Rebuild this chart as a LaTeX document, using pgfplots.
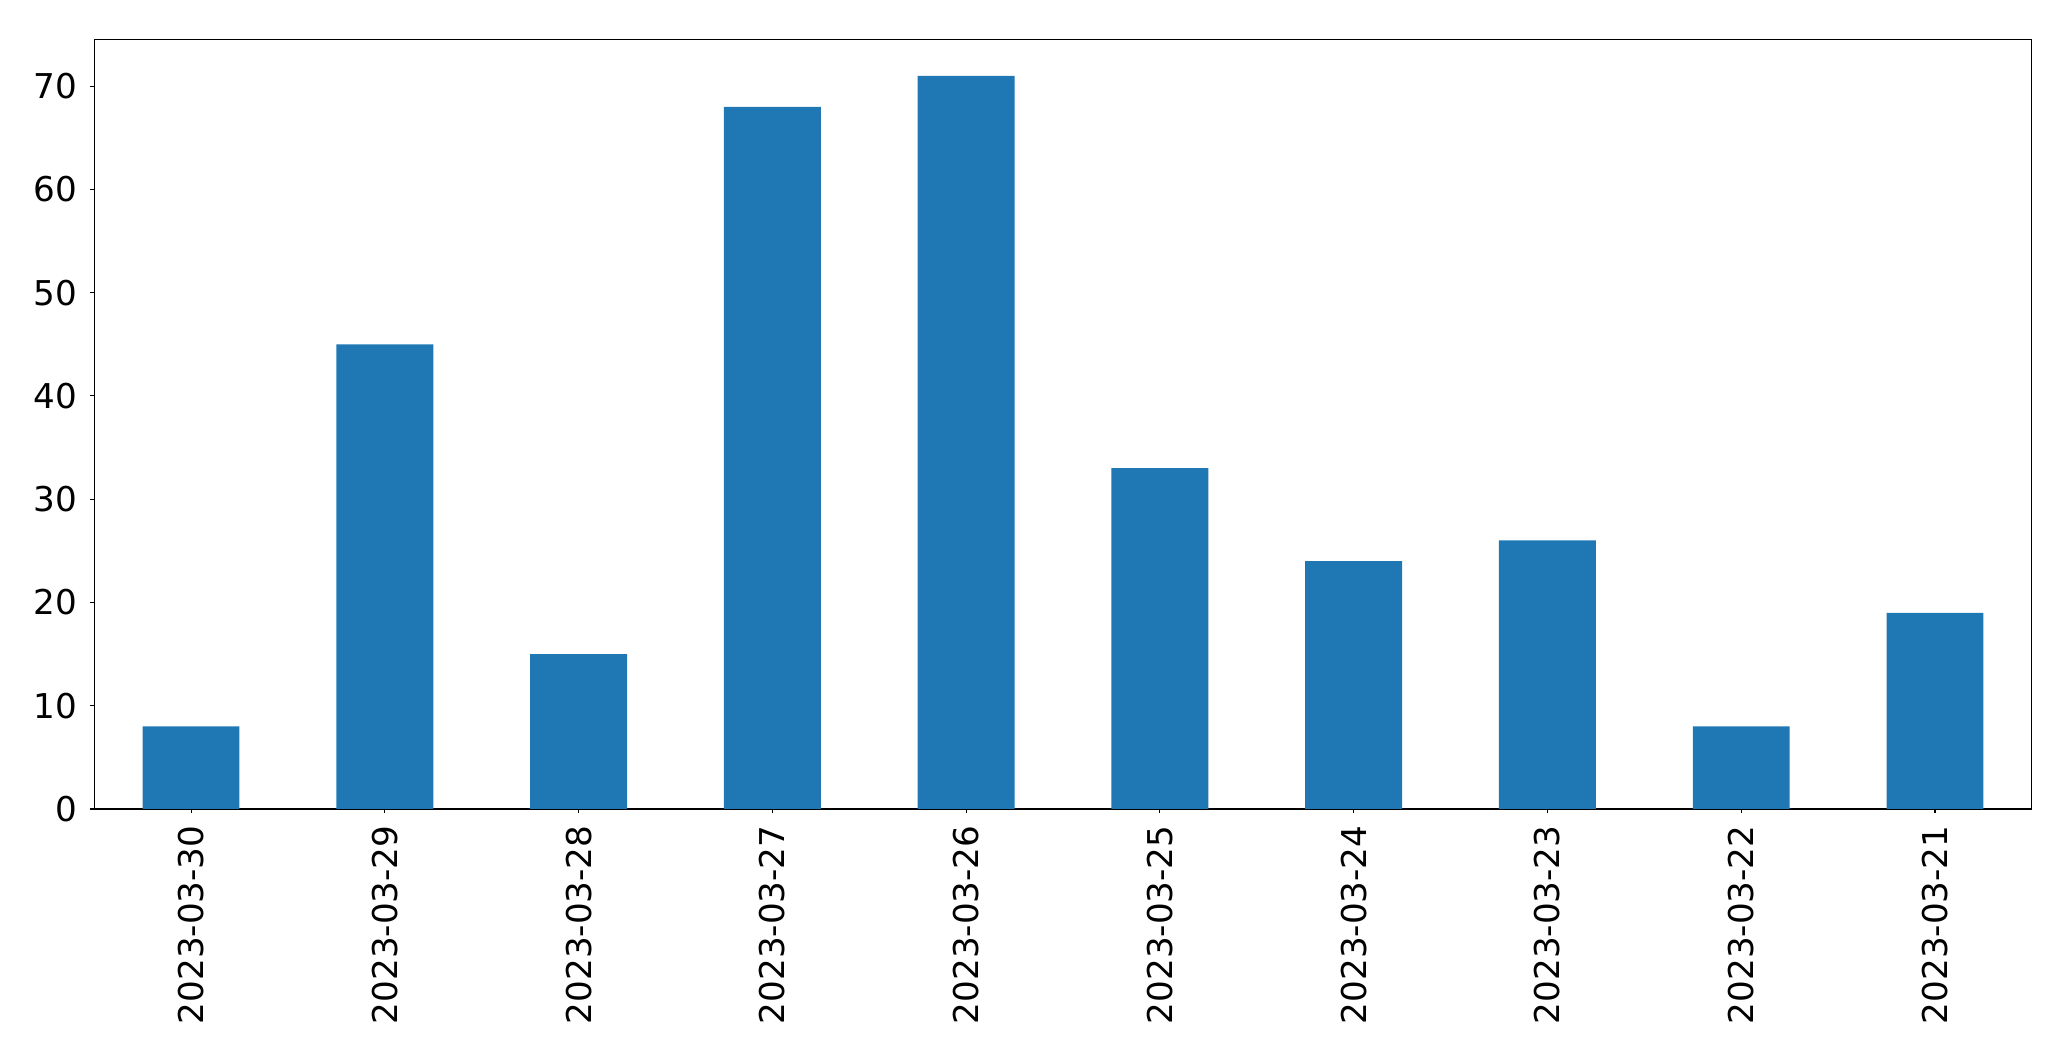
\documentclass[border=0pt]{standalone}
\usepackage{pgfplots}
\pgfplotsset{compat=1.18}
\usepackage{fontspec}
\setmainfont{DejaVu Sans}
\definecolor{mplblue}{HTML}{1F77B4}
\pgfplotstableread{
x y
0 8
1 45
2 15
3 68
4 71
5 33
6 24
7 26
8 8
9 19
}\datatable
\begin{document}
\fontsize{12.3}{15}\selectfont
\begin{tikzpicture}
\useasboundingbox (-33.9pt,-90.7pt) rectangle (711.6pt,291.2pt);
\begin{axis}[
  at={(0,0)}, anchor=south west,
  scale only axis,
  width=697.5pt, height=277.1pt,
  xmin=-0.5, xmax=9.5,
  ymin=0, ymax=74.55,
  xtick=data,
  xticklabels={2023-03-30,2023-03-29,2023-03-28,2023-03-27,2023-03-26,2023-03-25,2023-03-24,2023-03-23,2023-03-22,2023-03-21},
  ytick={0,10,20,30,40,50,60,70},
  tick align=outside,
  xtick pos=bottom, ytick pos=left,
  major tick length=1.55pt,
  tick style={black, line width=0.4pt},
  axis line style={line width=0.4pt},
  /pgf/number format/assume math mode=true,
  ticklabel style={font=\fontsize{12.3}{15}\selectfont},
  yticklabel style={anchor=east, inner sep=0pt, xshift=-4.5pt},
  xticklabel style={yshift=-4.2pt, rotate=90, anchor=east, inner sep=0pt},
]
\addplot[ybar, bar width=0.5, fill=mplblue, draw=none] table[x=x,y=y] {\datatable};
\end{axis}
\end{tikzpicture}
\end{document}
